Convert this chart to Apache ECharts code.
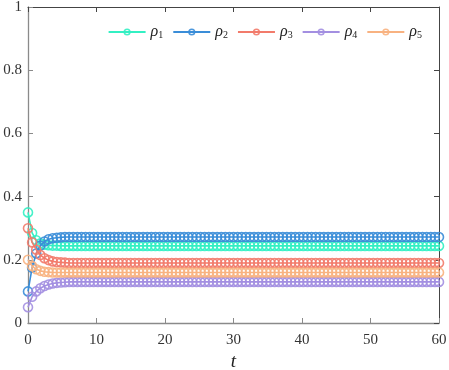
<!DOCTYPE html>
<html>
<head>
<meta charset="utf-8">
<script src="https://cdn.jsdelivr.net/npm/echarts@6/dist/echarts.min.js"></script>
<style>html,body{margin:0;padding:0;background:#fff}#c{width:449px;height:370px}</style>
</head>
<body>
<div id="c"></div>
<script>
const t = [0,0.6,1.2,1.8,2.4,3,3.6,4.2,4.8,5.4,
6,6.6,7.2,7.8,8.4,9,9.6,10.2,10.8,11.4,
12,12.6,13.2,13.8,14.4,15,15.6,16.2,16.8,17.4,
18,18.6,19.2,19.8,20.4,21,21.6,22.2,22.8,23.4,
24,24.6,25.2,25.8,26.4,27,27.6,28.2,28.8,29.4,
30,30.6,31.2,31.8,32.4,33,33.6,34.2,34.8,35.4,
36,36.6,37.2,37.8,38.4,39,39.6,40.2,40.8,41.4,
42,42.6,43.2,43.8,44.4,45,45.6,46.2,46.8,47.4,
48,48.6,49.2,49.8,50.4,51,51.6,52.2,52.8,53.4,
54,54.6,55.2,55.8,56.4,57,57.6,58.2,58.8,59.4,
60];
const rho1 = [0.35,0.285,0.262,0.252,0.248,0.246,0.245,0.245,0.244,0.244,
0.244,0.244,0.244,0.244,0.244,0.244,0.244,0.244,0.244,0.244,
0.244,0.244,0.244,0.244,0.244,0.244,0.244,0.244,0.244,0.244,
0.244,0.244,0.244,0.244,0.244,0.244,0.244,0.244,0.244,0.244,
0.244,0.244,0.244,0.244,0.244,0.244,0.244,0.244,0.244,0.244,
0.244,0.244,0.244,0.244,0.244,0.244,0.244,0.244,0.244,0.244,
0.244,0.244,0.244,0.244,0.244,0.244,0.244,0.244,0.244,0.244,
0.244,0.244,0.244,0.244,0.244,0.244,0.244,0.244,0.244,0.244,
0.244,0.244,0.244,0.244,0.244,0.244,0.244,0.244,0.244,0.244,
0.244,0.244,0.244,0.244,0.244,0.244,0.244,0.244,0.244,0.244,
0.244];
const rho2 = [0.1,0.175,0.22,0.245,0.258,0.265,0.268,0.27,0.271,0.272,
0.272,0.272,0.272,0.272,0.272,0.272,0.272,0.272,0.272,0.272,
0.272,0.272,0.272,0.272,0.272,0.272,0.272,0.272,0.272,0.272,
0.272,0.272,0.272,0.272,0.272,0.272,0.272,0.272,0.272,0.272,
0.272,0.272,0.272,0.272,0.272,0.272,0.272,0.272,0.272,0.272,
0.272,0.272,0.272,0.272,0.272,0.272,0.272,0.272,0.272,0.272,
0.272,0.272,0.272,0.272,0.272,0.272,0.272,0.272,0.272,0.272,
0.272,0.272,0.272,0.272,0.272,0.272,0.272,0.272,0.272,0.272,
0.272,0.272,0.272,0.272,0.272,0.272,0.272,0.272,0.272,0.272,
0.272,0.272,0.272,0.272,0.272,0.272,0.272,0.272,0.272,0.272,
0.272];
const rho3 = [0.3,0.255,0.232,0.215,0.205,0.199,0.195,0.193,0.192,0.191,
0.19,0.19,0.19,0.19,0.19,0.19,0.19,0.19,0.19,0.19,
0.19,0.19,0.19,0.19,0.19,0.19,0.19,0.19,0.19,0.19,
0.19,0.19,0.19,0.19,0.19,0.19,0.19,0.19,0.19,0.19,
0.19,0.19,0.19,0.19,0.19,0.19,0.19,0.19,0.19,0.19,
0.19,0.19,0.19,0.19,0.19,0.19,0.19,0.19,0.19,0.19,
0.19,0.19,0.19,0.19,0.19,0.19,0.19,0.19,0.19,0.19,
0.19,0.19,0.19,0.19,0.19,0.19,0.19,0.19,0.19,0.19,
0.19,0.19,0.19,0.19,0.19,0.19,0.19,0.19,0.19,0.19,
0.19,0.19,0.19,0.19,0.19,0.19,0.19,0.19,0.19,0.19,
0.19];
const rho4 = [0.05,0.083,0.1,0.11,0.117,0.122,0.125,0.127,0.128,0.129,
0.13,0.13,0.13,0.13,0.13,0.13,0.13,0.13,0.13,0.13,
0.13,0.13,0.13,0.13,0.13,0.13,0.13,0.13,0.13,0.13,
0.13,0.13,0.13,0.13,0.13,0.13,0.13,0.13,0.13,0.13,
0.13,0.13,0.13,0.13,0.13,0.13,0.13,0.13,0.13,0.13,
0.13,0.13,0.13,0.13,0.13,0.13,0.13,0.13,0.13,0.13,
0.13,0.13,0.13,0.13,0.13,0.13,0.13,0.13,0.13,0.13,
0.13,0.13,0.13,0.13,0.13,0.13,0.13,0.13,0.13,0.13,
0.13,0.13,0.13,0.13,0.13,0.13,0.13,0.13,0.13,0.13,
0.13,0.13,0.13,0.13,0.13,0.13,0.13,0.13,0.13,0.13,
0.13];
const rho5 = [0.2,0.18,0.17,0.165,0.162,0.161,0.16,0.16,0.16,0.16,
0.16,0.16,0.16,0.16,0.16,0.16,0.16,0.16,0.16,0.16,
0.16,0.16,0.16,0.16,0.16,0.16,0.16,0.16,0.16,0.16,
0.16,0.16,0.16,0.16,0.16,0.16,0.16,0.16,0.16,0.16,
0.16,0.16,0.16,0.16,0.16,0.16,0.16,0.16,0.16,0.16,
0.16,0.16,0.16,0.16,0.16,0.16,0.16,0.16,0.16,0.16,
0.16,0.16,0.16,0.16,0.16,0.16,0.16,0.16,0.16,0.16,
0.16,0.16,0.16,0.16,0.16,0.16,0.16,0.16,0.16,0.16,
0.16,0.16,0.16,0.16,0.16,0.16,0.16,0.16,0.16,0.16,
0.16,0.16,0.16,0.16,0.16,0.16,0.16,0.16,0.16,0.16,
0.16];
const seriesNames = ['ρ1','ρ2','ρ3','ρ4','ρ5'];
const seriesValues = [rho1, rho2, rho3, rho4, rho5];
const colors = ['#33f0c3','#3a8dd8','#f27b6b','#a38fe1','#f8b281'];
const xTicks = [0,10,20,30,40,50,60];
const yTicks = [0,0.2,0.4,0.6,0.8,1];

const FONT = 'Liberation Serif';
const chart = echarts.init(document.getElementById('c'), null, {renderer:'canvas'});
const series = seriesNames.map((n,i)=>({
  name:n, type:'line', xAxisIndex:0, yAxisIndex:0,
  data: t.map((x,j)=>[x, seriesValues[i][j]]),
  symbol:'circle', symbolSize:9, showSymbol:true, showAllSymbol:true,
  lineStyle:{color:colors[i], width:1.6},
  itemStyle:{color:'rgba(255,255,255,0)', borderColor:colors[i], borderWidth:1.6, opacity:0.9},
  emphasis:{disabled:true}, z: 2+i
}));
const option = {
  animation:false,
  backgroundColor:'#fff',
  grid:{left:28, right:10, top:7, bottom:47, containLabel:false, outerBoundsMode:'none'},
  legend:{
    right:22, top:19, itemWidth:37, itemHeight:7, itemGap:9,
    data: seriesNames.map((n,i)=>({name:n, itemStyle:{color:'rgba(255,255,255,0)', borderColor:colors[i], borderWidth:1.6}})),
    formatter: n => '{a|ρ}{b|' + n.slice(1) + '}',
    textStyle:{
      rich:{
        a:{fontFamily:FONT, fontStyle:'italic', fontSize:16, color:'#222'},
        b:{fontFamily:FONT, fontSize:10, color:'#222', padding:[7,0,0,0]}
      }
    }
  },
  xAxis:[{
    type:'value', min:xTicks[0], max:xTicks[xTicks.length-1], interval:10,
    name:'t', nameLocation:'middle', nameGap:26,
    nameTextStyle:{fontFamily:FONT, fontStyle:'italic', fontSize:19, color:'#222'},
    axisLine:{show:true, lineStyle:{color:'#8a8a8a', width:1.3}},
    axisTick:{show:true, inside:true, length:5, lineStyle:{color:'#8a8a8a'}},
    axisLabel:{fontFamily:FONT, fontSize:15, color:'#333', margin:10},
    splitLine:{show:false}
  },{
    type:'value', position:'top', min:0, max:60, interval:10,
    axisLine:{show:true, onZero:false, lineStyle:{color:'#444', width:1}},
    axisTick:{show:true, inside:true, length:5, lineStyle:{color:'#444'}},
    axisLabel:{show:false}, splitLine:{show:false}
  }],
  yAxis:[{
    type:'value', min:yTicks[0], max:yTicks[yTicks.length-1], interval:0.2,
    axisLine:{show:true, lineStyle:{color:'#8a8a8a', width:1.3}},
    axisTick:{show:true, inside:true, length:5, lineStyle:{color:'#8a8a8a'}},
    axisLabel:{fontFamily:FONT, fontSize:15, color:'#333', margin:6},
    splitLine:{show:false}
  },{
    type:'value', position:'right', min:0, max:1, interval:0.2,
    axisLine:{show:true, onZero:false, lineStyle:{color:'#444', width:1}},
    axisTick:{show:true, inside:true, length:5, lineStyle:{color:'#444'}},
    axisLabel:{show:false}, splitLine:{show:false}
  }],
  series: series
};
chart.setOption(option);
</script>
</body>
</html>
